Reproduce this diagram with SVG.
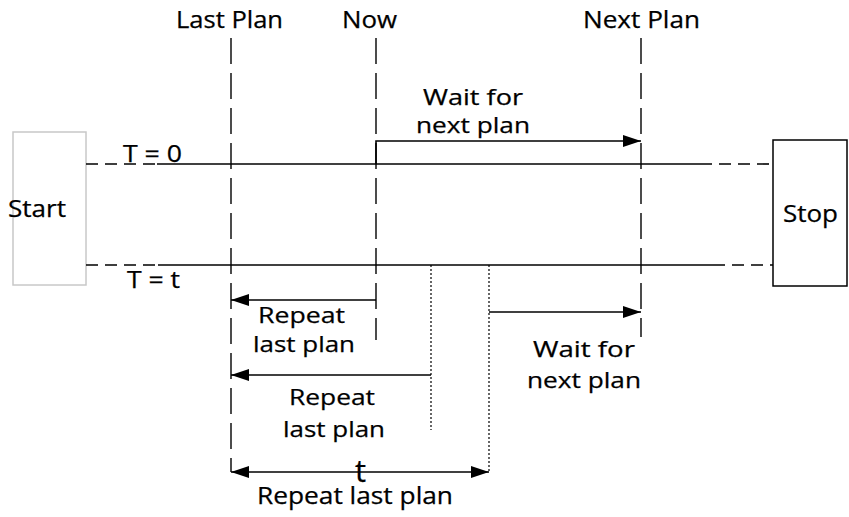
<svg xmlns="http://www.w3.org/2000/svg" width="849" height="517" viewBox="0 0 849 517">
<defs>
<marker id="ah" markerUnits="userSpaceOnUse" markerWidth="20" markerHeight="12" refX="18" refY="6" orient="auto-start-reverse">
<path d="M0,0 L18,6 L0,12 Z" fill="#000"/>
</marker>
</defs>
<style>
text{font-family:"Open Sans","DejaVu Sans",sans-serif;font-size:23px;fill:#000;stroke:#000;stroke-width:0.25}
.two{font-size:22px}
.solid{stroke:#000;stroke-width:1.6;fill:none}
.hd{stroke:#000;stroke-width:1.6;fill:none;stroke-dasharray:12 7}
.vd{stroke:#000;stroke-width:1.4;fill:none;stroke-dasharray:26 9}
.dot{stroke:#000;stroke-width:1.2;fill:none;stroke-dasharray:2 2}
.arr{stroke:#000;stroke-width:1.6;fill:none}
</style>
<rect width="849" height="517" fill="#fff"/>
<g id="start">
<rect x="13" y="132" width="73" height="153" fill="#fff" stroke="#c8c8c8" stroke-width="1.5"/>
<text x="8" y="217" textLength="58" lengthAdjust="spacingAndGlyphs">Start</text>
</g>
<g id="stop">
<rect x="773" y="140" width="74" height="146" fill="#fff" stroke="#000" stroke-width="1.5"/>
<text x="783" y="222" textLength="55" lengthAdjust="spacingAndGlyphs">Stop</text>
</g>
<g id="timeline-labels">
<text x="176" y="28" textLength="107" lengthAdjust="spacingAndGlyphs">Last Plan</text>
<text x="342" y="28" textLength="55" lengthAdjust="spacingAndGlyphs">Now</text>
<text x="583" y="28" textLength="117" lengthAdjust="spacingAndGlyphs">Next Plan</text>
<text x="123" y="162" textLength="59" lengthAdjust="spacingAndGlyphs">T = 0</text>
<text x="127" y="288" textLength="53" lengthAdjust="spacingAndGlyphs">T = t</text>
</g>
<g id="connectors">
<path class="hd" d="M86,164 H157"/>
<path class="solid" d="M157,164 H700"/>
<path class="hd" d="M700,164 H773"/>
<path class="hd" d="M86,265 H158"/>
<path class="solid" d="M158,265 H713"/>
<path class="hd" d="M713,265 H773"/>
<path class="vd" d="M231,38 V472"/>
<path class="vd" d="M376,38 V340"/>
<path class="vd" d="M641,38 V337"/>
<path class="dot" d="M431,265 V430"/>
<path class="dot" d="M489,265 V472"/>
<path class="arr" d="M376,164 V141 H641" marker-end="url(#ah)"/>
<path class="arr" d="M376,300 H231" marker-end="url(#ah)"/>
<path class="arr" d="M431,375 H231" marker-end="url(#ah)"/>
<path class="arr" d="M489,312 H641" marker-end="url(#ah)"/>
<path class="arr" d="M231,472 H489" marker-start="url(#ah)" marker-end="url(#ah)"/>
</g>
<g id="labels">
<text class="two" x="423" y="105" textLength="100" lengthAdjust="spacingAndGlyphs">Wait for</text>
<text class="two" x="416" y="133" textLength="114" lengthAdjust="spacingAndGlyphs">next plan</text>
<text class="two" x="258" y="323" textLength="87" lengthAdjust="spacingAndGlyphs">Repeat</text>
<text class="two" x="253" y="352" textLength="102" lengthAdjust="spacingAndGlyphs">last plan</text>
<text class="two" x="289" y="405" textLength="86" lengthAdjust="spacingAndGlyphs">Repeat</text>
<text class="two" x="283" y="437" textLength="102" lengthAdjust="spacingAndGlyphs">last plan</text>
<text class="two" x="533" y="357" textLength="102" lengthAdjust="spacingAndGlyphs">Wait for</text>
<text class="two" x="527" y="388" textLength="114" lengthAdjust="spacingAndGlyphs">next plan</text>
<text x="355" y="482" style="font-size:31px">t</text>
<text x="257" y="504" textLength="196" lengthAdjust="spacingAndGlyphs">Repeat last plan</text>
</g>
</svg>
